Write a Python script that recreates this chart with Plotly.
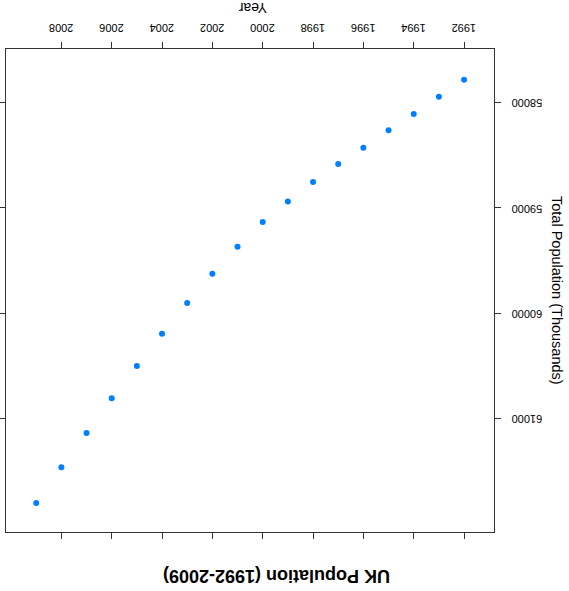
import plotly.graph_objects as go

years = list(range(1992, 2010))
population = [57785, 57947, 58111, 58266, 58431, 58586, 58757, 58940, 59136,
              59371, 59627, 59903, 60197, 60501, 60807, 61137, 61462, 61801]
x_ticks = list(range(1992, 2009, 2))
y_ticks = [58000, 59000, 60000, 61000]

title_text = "UK Population (1992-2009)"
x_title = "Year"
y_title = "Total Population (Thousands)"

FONT = "Liberation Sans, Arial, sans-serif"

fig = go.Figure()
fig.add_trace(go.Scatter(
    x=years, y=population, mode="markers",
    marker=dict(color="#0080ff", size=6, symbol="circle"),
    showlegend=False,
))

W, H = 569, 591
ml, mr, mt, mb = 6, 75, 49, 59
pw = W - ml - mr
ph = H - mt - mb

axis_common = dict(
    showline=True, linecolor="#333333", linewidth=1, mirror="ticks",
    ticks="outside", ticklen=6, tickcolor="#333333", tickwidth=1,
    showgrid=False, zeroline=False, automargin=False,
    tickfont=dict(family=FONT, size=11, color="black"),
    tickangle=180,
)

fig.update_xaxes(
    range=[2010.2, 1990.81], side="top",
    tickmode="array", tickvals=x_ticks, ticktext=[str(v) for v in x_ticks],
    ticklabelshift=-12, ticklabelstandoff=3,
    **axis_common,
)
fig.update_yaxes(
    range=[62077, 57494], side="right",
    tickmode="array", tickvals=y_ticks, ticktext=[str(v) for v in y_ticks],
    ticklabelstandoff=39, ticklabelshift=-4,
    **axis_common,
)

def px_to_paper_x(px):
    return (px - ml) / pw

def px_to_paper_y(py):
    return (H - mb - py) / ph

fig.add_annotation(
    text=x_title, xref="paper", yref="paper",
    x=px_to_paper_x(252.5), y=px_to_paper_y(8),
    xanchor="center", yanchor="middle", showarrow=False, textangle=180,
    font=dict(family=FONT, size=14, color="black"),
)
fig.add_annotation(
    text=y_title, xref="paper", yref="paper",
    x=px_to_paper_x(557), y=px_to_paper_y(290),
    xanchor="center", yanchor="middle", showarrow=False, textangle=90,
    font=dict(family=FONT, size=14.5, color="black"),
)
fig.add_annotation(
    text="<b>" + title_text + "</b>", xref="paper", yref="paper",
    x=px_to_paper_x(277), y=px_to_paper_y(576),
    xanchor="center", yanchor="middle", showarrow=False, textangle=180,
    font=dict(family=FONT, size=18, color="black"),
)

fig.update_layout(
    width=W, height=H,
    margin=dict(l=ml, r=mr, t=mt, b=mb, pad=0),
    paper_bgcolor="white", plot_bgcolor="white",
    font=dict(family=FONT),
)

fig.write_html(
    "out.html",
    config={"displayModeBar": False},
    post_script="document.body.style.margin='0';document.body.style.padding='0';",
)
